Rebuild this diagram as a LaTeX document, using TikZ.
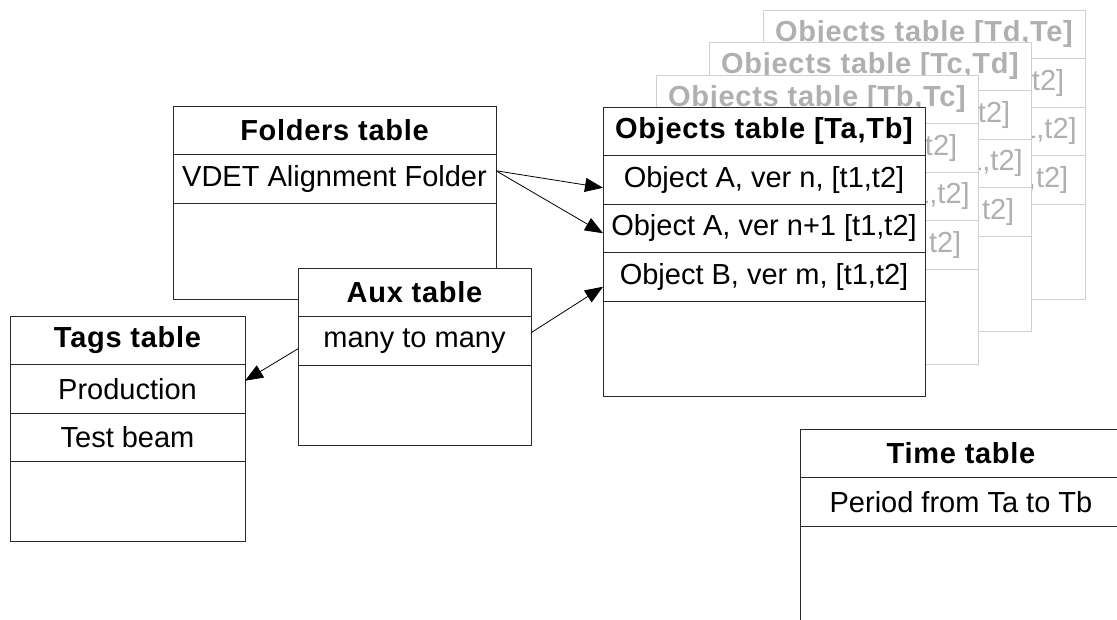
\documentclass[tikz,border=0pt]{standalone}
\usepackage{fontspec}
\setmainfont{Liberation Sans}
\newfontfamily\hdfam[LetterSpace=2.5]{Liberation Sans}
\usetikzlibrary{arrows.meta}
\definecolor{lgline}{HTML}{D0D0D0}
\definecolor{lgtext}{HTML}{B0B0B0}
\definecolor{dkline}{HTML}{2A2A2A}
\newcommand\rfont{\fontsize{29}{31}\selectfont}
\newcommand\hfont{\hdfam\fontsize{29}{31}\selectfont\bfseries}
\tikzset{
  dark/.style={draw=dkline, text=black},
  light/.style={draw=lgline, text=lgtext},
  tbox/.style={rectangle, fill=white, line width=1pt, inner sep=0pt, outer sep=0pt, anchor=north west},
  tcell/.style={tbox, minimum height=48.5pt, font=\rfont},
  arr/.style={draw=black, line width=0.8pt, -{Triangle[length=18pt,width=14pt]}},
}
% #1 name, #2 position, #3 width, #4 height, #5 look, #6 header, #7 rows
\newcommand\dbtab[7]{%
  \node[tbox, #5, minimum width=#3, minimum height=#4] (#1) at #2 {};
  \node[tcell, #5, minimum width=#3, font=\hfont] (#1-0) at (#1.north west) {#6};
  \foreach \r [count=\i, remember=\i as \j (initially 0)] in {#7} {
    \node[tcell, #5, minimum width=#3] (#1-\i) at (#1-\j.south west) {\r};
  }%
}
\begin{document}
\begin{tikzpicture}[x=1pt,y=-1pt]
\clip (0,0) rectangle (1117,619);
\fill[white] (0,0) rectangle (1117,619);
% stacked grey object tables
\dbtab{objD}{(763,10)}{322pt}{289pt}{light}{Objects table [Td,Te]}{{Object A, ver n, [t1,t2]},{Object A, ver n+1 [t1,t2]},{Object B, ver m, [t1,t2]}}
\dbtab{objC}{(709,42)}{322pt}{289pt}{light}{Objects table [Tc,Td]}{{Object A, ver n, [t1,t2]},{Object A, ver n+1 [t1,t2]},{Object B, ver m, [t1,t2]}}
\dbtab{objB}{(656,75)}{322pt}{289pt}{light}{Objects table [Tb,Tc]}{{Object A, ver n, [t1,t2]},{Object A, ver n+1 [t1,t2]},{Object B, ver m, [t1,t2]}}
\dbtab{objA}{(603,107)}{322pt}{289pt}{dark}{Objects table [Ta,Tb]}{{Object A, ver n, [t1,t2]},{Object A, ver n+1 [t1,t2]},{Object B, ver m, [t1,t2]}}
% other tables
\dbtab{folders}{(173,106)}{323pt}{193pt}{dark}{Folders table}{{VDET Alignment Folder}}
\dbtab{aux}{(298,268)}{233pt}{177pt}{dark}{Aux table}{{many to many}}
\dbtab{tags}{(10,316)}{235pt}{225pt}{dark}{Tags table}{{Production},{Test beam}}
\dbtab{time}{(800,429)}{322pt}{289pt}{dark}{Time table}{{Period from Ta to Tb}}
% connectors
\draw[arr] ([yshift=8pt]folders-1.east) -- ([yshift=-8pt]objA-1.west);
\draw[arr] ([yshift=8pt]folders-1.east) -- ([yshift=-5pt]objA-2.west);
\draw[arr] ([yshift=8pt]aux-1.east) -- ([yshift=-10pt]objA-3.west);
\draw[arr] ([yshift=-8pt]aux-1.west) -- ([yshift=8pt]tags-1.east);
\end{tikzpicture}
\end{document}
